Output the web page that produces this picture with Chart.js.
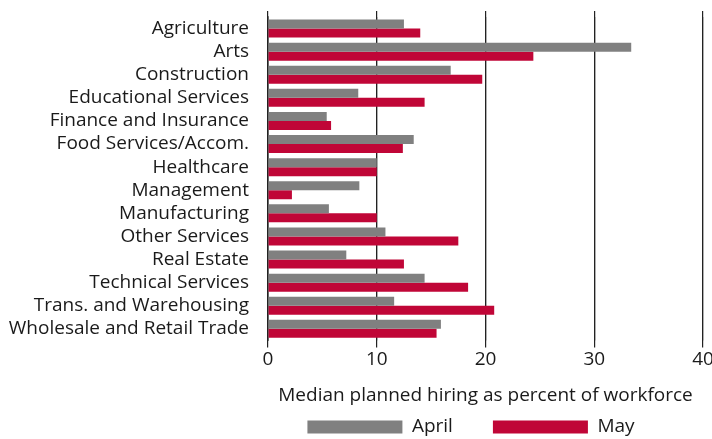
<!DOCTYPE html>
<html>
<head>
<meta charset="utf-8">
<script src="https://cdn.jsdelivr.net/npm/chart.js@4"></script>
<style>
  html, body { margin: 0; padding: 0; background: #fff; }
  .chart-container { width: 712px; height: 439px; }
</style>
</head>
<body>
<div class="chart-container"><canvas id="chart"></canvas></div>
<script>
const industries = [
  'Agriculture', 'Arts', 'Construction', 'Educational Services',
  'Finance and Insurance', 'Food Services/Accom.', 'Healthcare', 'Management',
  'Manufacturing', 'Other Services', 'Real Estate', 'Technical Services',
  'Trans. and Warehousing', 'Wholesale and Retail Trade'
];
const aprilValues = [12.5, 33.4, 16.8, 8.3, 5.4, 13.4, 10.0, 8.4, 5.6, 10.8, 7.2, 14.4, 11.6, 15.9];
const mayValues = [14.0, 24.4, 19.7, 14.4, 5.8, 12.4, 10.0, 2.2, 10.0, 17.5, 12.5, 18.4, 20.8, 15.5];
const xTicks = [0, 10, 20, 30, 40];

const fontFamily = '"Open Sans", "Noto Sans", sans-serif';
const fontSize = 19;
const textColor = '#1a1a1a';
const gridColor = '#222';

// legend padding is used for both gaps, so keep the box short and place it by hand
const legendPlace = {
  id: 'legendPlace',
  beforeLayout(chart) {
    const legend = chart.legend;
    if (legend && !legend._fitWrapped) {
      const fit = legend.fit;
      legend.fit = function () {
        fit.call(this);
        this.height = 28;
      };
      legend._fitWrapped = true;
    }
  },
  afterLayout(chart) {
    const legend = chart.legend;
    const dx = 111;
    legend.left += dx;
    legend.right += dx;
    legend.top = 417.5 - legend.options.labels.padding;
  }
};

// let the "40" label hang past the plot like the original
function trimRight(scale) {
  scale.paddingRight = 9;
}

const chartConfig = {
  type: 'bar',
  data: {
    labels: industries,
    datasets: [
      { label: 'April', data: aprilValues, backgroundColor: '#808080' },
      { label: 'May', data: mayValues, backgroundColor: '#c00637' }
    ]
  },
  options: {
    indexAxis: 'y',
    responsive: true,
    maintainAspectRatio: false,
    animation: false,
    categoryPercentage: 0.78,
    barPercentage: 1,
    layout: { padding: { top: 11, left: 8, right: 0, bottom: 0 } },
    scales: {
      y: {
        grid: { display: false, drawTicks: false },
        border: { display: true, color: gridColor, width: 1.5 },
        ticks: {
          color: textColor, padding: 19, autoSkip: false,
          font: { family: fontFamily, size: fontSize }
        },
        afterFit(scale) {
          scale.width = 260;
          scale.paddingTop = 0;
          scale.paddingBottom = 0;
        }
      },
      x: {
        min: 0, max: 40,
        afterBuildTicks(scale) { scale.ticks = xTicks.map(v => ({ value: v })); },
        afterFit: trimRight,
        grid: { color: gridColor, lineWidth: 1.2, tickLength: 7, tickColor: gridColor },
        border: { display: false },
        ticks: { color: textColor, padding: 1, font: { family: fontFamily, size: fontSize } },
        title: {
          display: true,
          text: 'Median planned hiring as percent of workforce',
          color: textColor,
          font: { family: fontFamily, size: fontSize },
          padding: { top: 12, bottom: 4 }
        }
      },
      xTop: {
        axis: 'x', position: 'top', min: 0, max: 40,
        afterBuildTicks(scale) { scale.ticks = xTicks.map(v => ({ value: v })); },
        afterFit: trimRight,
        grid: { color: gridColor, lineWidth: 1.2, tickLength: 6, tickColor: gridColor },
        border: { display: false },
        ticks: { display: false }
      }
    },
    plugins: {
      tooltip: { enabled: false },
      legend: {
        position: 'bottom',
        labels: {
          boxWidth: 95, boxHeight: 13, padding: 40,
          color: textColor,
          font: { family: fontFamily, size: fontSize }
        }
      }
    }
  },
  plugins: [legendPlace]
};

const myChart = new Chart(document.getElementById('chart'), chartConfig);
</script>
</body>
</html>
